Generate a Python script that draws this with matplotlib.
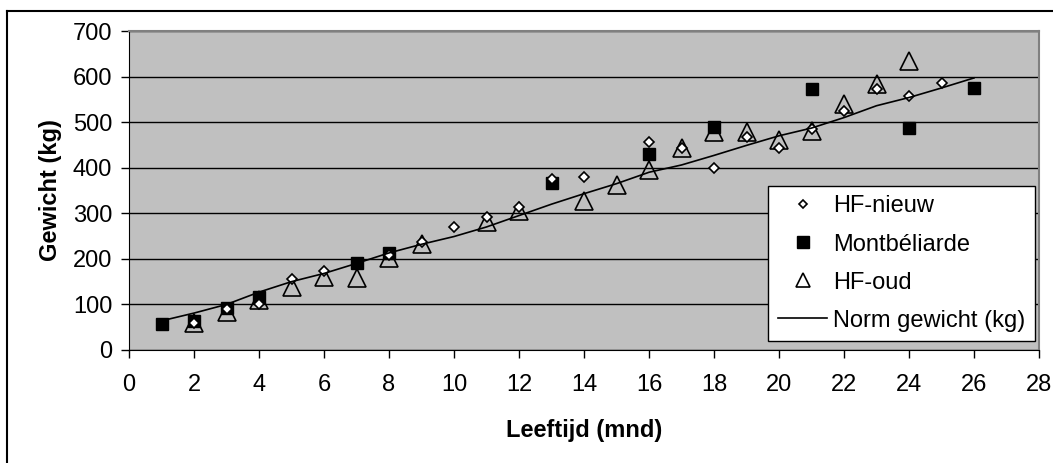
import matplotlib.pyplot as plt
import numpy as np

plt.rcParams['font.family'] = ['Liberation Sans', 'DejaVu Sans']

# HF-nieuw (ruit)
hf_nieuw_x = [2, 3, 4, 5, 6, 8, 9, 10, 11, 12, 13, 14, 16, 17, 18, 19, 20, 21, 22, 23, 24, 25]
hf_nieuw_y = [60, 90, 102, 155, 173, 208, 238, 270, 292, 314, 375, 379, 456, 443, 399, 468, 444, 484, 525, 573, 557, 586]

# Montbeliarde (vierkant)
mont_x = [1, 2, 3, 4, 7, 8, 13, 16, 18, 21, 24, 26]
mont_y = [58, 63, 93, 117, 191, 212, 367, 430, 489, 572, 487, 576]

# HF-oud (driehoek)
hf_oud_x = [2, 3, 4, 5, 6, 7, 8, 9, 11, 12, 14, 15, 16, 17, 18, 19, 20, 21, 22, 23, 24]
hf_oud_y = [59, 84, 109, 138, 160, 157, 201, 232, 281, 305, 328, 363, 395, 443, 478, 478, 461, 481, 540, 584, 635]

# Norm gewicht (kg)
norm_x = list(range(1, 27))
norm_y = [64, 81, 100, 127, 150, 168, 190, 213, 232, 249, 270, 295, 320, 343, 365, 390,
          406, 427, 449, 470, 487, 510, 536, 554, 575, 597]

fig = plt.figure(figsize=(10.53, 4.63), dpi=100)
ax = fig.add_axes([129 / 1053, (463 - 350) / 463, (1039 - 129) / 1053, (350 - 31) / 463])
ax.set_facecolor('#c0c0c0')

ax.plot(hf_nieuw_x, hf_nieuw_y, 'D', ms=5.6, mfc='white', mec='black', mew=1.2,
        ls='none', label='HF-nieuw', zorder=5)
ax.plot(mont_x, mont_y, 's', ms=9, mfc='black', mec='black',
        ls='none', label='Montbéliarde', zorder=4)
ax.plot(hf_oud_x, hf_oud_y, '^', ms=13.5, mfc='none', mec='black', mew=1.2,
        ls='none', label='HF-oud', zorder=3)
ax.plot(norm_x, norm_y, color='black', lw=1.2, label='Norm gewicht (kg)', zorder=6)

ax.set_xlim(0, 28)
ax.set_ylim(0, 700)
ax.set_xticks(np.arange(0, 29, 2))
ax.set_yticks(np.arange(0, 701, 100))
ax.yaxis.grid(True, color='black', lw=1)
ax.set_axisbelow(True)
ax.tick_params(direction='out', length=6, width=1, labelsize=17, colors='black')
ax.tick_params(axis='x', pad=11)
ax.tick_params(axis='y', pad=6)

for side in ['top', 'right']:
    ax.spines[side].set_color('#808080')
    ax.spines[side].set_linewidth(1.5)
for side in ['left', 'bottom']:
    ax.spines[side].set_color('black')

ax.set_xlabel('Leeftijd (mnd)', fontsize=17, fontweight='bold', labelpad=17)
ax.set_ylabel('Gewicht (kg)', fontsize=17, fontweight='bold', labelpad=8)

leg = ax.legend(loc='lower right', bbox_to_anchor=(1.0 - 4 / 910, 0.028),
                fontsize=17, fancybox=False, framealpha=1, edgecolor='black',
                handlelength=2.1, handletextpad=0.25, labelspacing=0.68,
                borderpad=0.4, borderaxespad=0)
leg.get_frame().set_linewidth(1)
leg.legend_handles[0].set_markersize(4.3)
leg.legend_handles[1].set_markersize(8.5)
leg.legend_handles[2].set_markersize(9.5)

# rand om de figuur
fig.add_artist(plt.Line2D([7 / 1053, 7 / 1053], [0, 1 - 11 / 463], color='black', lw=1.5,
                          transform=fig.transFigure))
fig.add_artist(plt.Line2D([7 / 1053, 1], [1 - 11 / 463, 1 - 11 / 463], color='black', lw=1.5,
                          transform=fig.transFigure))

fig.savefig('out.png', dpi=100)
